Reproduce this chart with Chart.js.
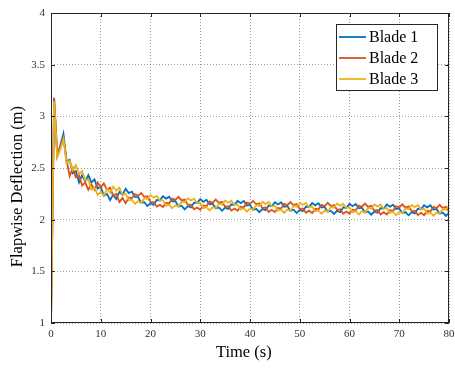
<!DOCTYPE html>
<html>
<head>
<meta charset="utf-8">
<script src="https://cdn.jsdelivr.net/npm/chart.js@4.4.0/dist/chart.umd.min.js"></script>
<style>
  html, body { margin: 0; padding: 0; background: #fff; }
  #wrap { width: 455px; height: 369px; }
</style>
</head>
<body>
<div id="wrap"><canvas id="deflChart" width="455" height="369"></canvas></div>
<script>
// sample spacing (s) of the series below, starting at t = 0
const dt = 0.625;

const blade1 = [
  1.00, 3.18, 2.62, 2.72, 2.83, 2.56, 2.58, 2.45, 2.47, 2.36,
  2.43, 2.37, 2.43, 2.36, 2.39, 2.30, 2.32, 2.23, 2.25, 2.19,
  2.24, 2.20, 2.27, 2.24, 2.30, 2.257, 2.272, 2.220, 2.218, 2.164,
  2.169, 2.132, 2.159, 2.144, 2.191, 2.186, 2.226, 2.204, 2.222, 2.178,
  2.179, 2.127, 2.134, 2.100, 2.130, 2.118, 2.165, 2.160, 2.200, 2.172,
  2.192, 2.150, 2.155, 2.108, 2.118, 2.086, 2.116, 2.104, 2.149, 2.142,
  2.182, 2.160, 2.180, 2.138, 2.143, 2.095, 2.105, 2.073, 2.103, 2.091,
  2.136, 2.129, 2.169, 2.147, 2.168, 2.126, 2.132, 2.085, 2.096, 2.064,
  2.094, 2.082, 2.127, 2.121, 2.161, 2.139, 2.160, 2.118, 2.123, 2.077,
  2.087, 2.055, 2.086, 2.074, 2.119, 2.113, 2.153, 2.131, 2.152, 2.110,
  2.116, 2.069, 2.079, 2.048, 2.078, 2.067, 2.112, 2.106, 2.146, 2.125,
  2.145, 2.104, 2.109, 2.063, 2.073, 2.042, 2.072, 2.061, 2.106, 2.100,
  2.140, 2.119, 2.139, 2.098, 2.103, 2.057, 2.068, 2.037, 2.068
];

const blade2 = [
  1.00, 3.17, 2.64, 2.70, 2.79, 2.58, 2.42, 2.50, 2.41, 2.43,
  2.33, 2.36, 2.29, 2.34, 2.29, 2.36, 2.31, 2.35, 2.29, 2.31,
  2.23, 2.25, 2.17, 2.21, 2.16, 2.215, 2.207, 2.246, 2.231, 2.258,
  2.221, 2.226, 2.172, 2.170, 2.126, 2.144, 2.122, 2.162, 2.157, 2.204,
  2.192, 2.221, 2.186, 2.194, 2.143, 2.144, 2.100, 2.118, 2.096, 2.138,
  2.131, 2.176, 2.164, 2.194, 2.162, 2.172, 2.125, 2.130, 2.088, 2.108,
  2.086, 2.126, 2.119, 2.164, 2.152, 2.181, 2.149, 2.159, 2.112, 2.117,
  2.075, 2.095, 2.073, 2.113, 2.107, 2.152, 2.141, 2.171, 2.140, 2.150,
  2.103, 2.108, 2.066, 2.087, 2.065, 2.105, 2.099, 2.144, 2.132, 2.163,
  2.131, 2.141, 2.095, 2.100, 2.058, 2.079, 2.057, 2.097, 2.091, 2.136,
  2.125, 2.155, 2.123, 2.134, 2.087, 2.093, 2.051, 2.072, 2.050, 2.091,
  2.084, 2.130, 2.118, 2.149, 2.117, 2.128, 2.081, 2.087, 2.045, 2.066,
  2.044, 2.085, 2.078, 2.124, 2.112, 2.143, 2.112, 2.123, 2.077
];

const blade3 = [
  1.00, 3.14, 2.60, 2.68, 2.78, 2.55, 2.57, 2.48, 2.53, 2.44,
  2.47, 2.38, 2.39, 2.29, 2.31, 2.24, 2.27, 2.23, 2.30, 2.26,
  2.32, 2.28, 2.31, 2.24, 2.25, 2.189, 2.194, 2.152, 2.179, 2.164,
  2.208, 2.200, 2.237, 2.212, 2.230, 2.186, 2.187, 2.136, 2.144, 2.110,
  2.140, 2.127, 2.173, 2.168, 2.208, 2.186, 2.204, 2.160, 2.161, 2.112,
  2.122, 2.090, 2.120, 2.108, 2.153, 2.146, 2.186, 2.164, 2.184, 2.142,
  2.147, 2.100, 2.110, 2.078, 2.108, 2.095, 2.140, 2.133, 2.173, 2.151,
  2.171, 2.129, 2.134, 2.087, 2.098, 2.066, 2.097, 2.085, 2.131, 2.124,
  2.164, 2.142, 2.162, 2.121, 2.126, 2.079, 2.090, 2.058, 2.088, 2.077,
  2.122, 2.115, 2.156, 2.134, 2.154, 2.113, 2.118, 2.071, 2.082, 2.050,
  2.081, 2.069, 2.114, 2.108, 2.148, 2.127, 2.147, 2.106, 2.111, 2.065,
  2.075, 2.044, 2.074, 2.063, 2.108, 2.102, 2.142, 2.121, 2.141, 2.100,
  2.105, 2.059, 2.069, 2.038, 2.068, 2.057, 2.103, 2.097, 2.138
];

const seriesNames = ['Blade 1', 'Blade 2', 'Blade 3'];
const seriesColors = ['#0072BD', '#D95319', '#EDB120'];

const serif = 'Liberation Serif, Times New Roman, serif';
const toPoints = arr => arr.map((v, i) => ({ x: i * dt, y: v }));

// MATLAB-like box with inward tick marks on all four sides
const axesBox = {
  id: 'axesBox',
  afterDraw(chart) {
    const { ctx, chartArea: a, scales: { x, y } } = chart;
    ctx.save();
    ctx.strokeStyle = '#262626';
    ctx.lineWidth = 1;
    ctx.beginPath();
    x.ticks.forEach(t => {
      const px = Math.round(x.getPixelForValue(t.value)) + 0.5;
      ctx.moveTo(px, a.bottom); ctx.lineTo(px, a.bottom - 4);
      ctx.moveTo(px, a.top); ctx.lineTo(px, a.top + 4);
    });
    y.ticks.forEach(t => {
      const py = Math.round(y.getPixelForValue(t.value)) + 0.5;
      ctx.moveTo(a.left, py); ctx.lineTo(a.left + 4, py);
      ctx.moveTo(a.right, py); ctx.lineTo(a.right - 4, py);
    });
    ctx.stroke();
    ctx.strokeRect(a.left + 0.5, a.top + 0.5, a.right - a.left - 1, a.bottom - a.top - 1);
    ctx.restore();
  }
};

// boxed legend in the upper right corner of the axes
const boxLegend = {
  id: 'boxLegend',
  afterDraw(chart) {
    const { ctx, chartArea: a } = chart;
    const w = 101, h = 66;
    const x0 = a.right - 12 - w, y0 = a.top + 11;
    ctx.save();
    ctx.fillStyle = '#fff';
    ctx.fillRect(x0, y0, w, h);
    ctx.strokeStyle = '#262626';
    ctx.lineWidth = 1;
    ctx.strokeRect(x0 + 0.5, y0 + 0.5, w, h);
    ctx.font = '16px ' + serif;
    ctx.textBaseline = 'middle';
    chart.data.datasets.forEach((ds, k) => {
      const yy = y0 + 13 + 21 * k;
      ctx.strokeStyle = ds.borderColor;
      ctx.lineWidth = 1.8;
      ctx.beginPath();
      ctx.moveTo(x0 + 3, yy);
      ctx.lineTo(x0 + 30, yy);
      ctx.stroke();
      ctx.fillStyle = '#000';
      ctx.fillText(ds.label, x0 + 33, yy + 1);
    });
    ctx.restore();
  }
};

const ctx = document.getElementById('deflChart').getContext('2d');
new Chart(ctx, {
  type: 'line',
  data: {
    datasets: [blade1, blade2, blade3].map((arr, k) => ({
      label: seriesNames[k],
      data: toPoints(arr),
      borderColor: seriesColors[k],
      backgroundColor: seriesColors[k],
      borderWidth: 1.8,
      pointRadius: 0,
      tension: 0,
      order: 2 - k
    }))
  },
  options: {
    responsive: false,
    animation: false,
    layout: { padding: { top: 13, right: 6, bottom: 0, left: 0 } },
    plugins: {
      legend: { display: false },
      tooltip: { enabled: false }
    },
    scales: {
      x: {
        type: 'linear',
        min: 0,
        max: 80,
        afterFit: s => { s.height = 46; s.paddingLeft = 0; s.paddingRight = 0; },
        ticks: { stepSize: 10, padding: 5, maxRotation: 0, color: '#333', font: { family: serif, size: 11 } },
        grid: { color: 'rgba(38,38,38,0.45)', lineWidth: 1, drawTicks: false },
        border: { display: false, dash: [1, 2] },
        title: {
          display: true,
          text: 'Time (s)   ',
          color: '#000',
          font: { family: serif, size: 16.5 },
          padding: { top: 0, bottom: 6 }
        }
      },
      y: {
        min: 1,
        max: 4,
        afterFit: s => { s.width = 51; s.paddingTop = 0; s.paddingBottom = 0; },
        ticks: {
          stepSize: 0.5,
          padding: 6,
          color: '#333',
          font: { family: serif, size: 11 },
          callback: v => String(Math.round(v * 10) / 10)
        },
        grid: { color: 'rgba(38,38,38,0.45)', lineWidth: 1, drawTicks: false },
        border: { display: false, dash: [1, 2] },
        title: {
          display: true,
          text: 'Flapwise Deflection (m)         ',
          color: '#000',
          font: { family: serif, size: 16.5 },
          padding: { top: 8, bottom: 0 }
        }
      }
    }
  },
  plugins: [axesBox, boxLegend]
});
</script>
</body>
</html>
